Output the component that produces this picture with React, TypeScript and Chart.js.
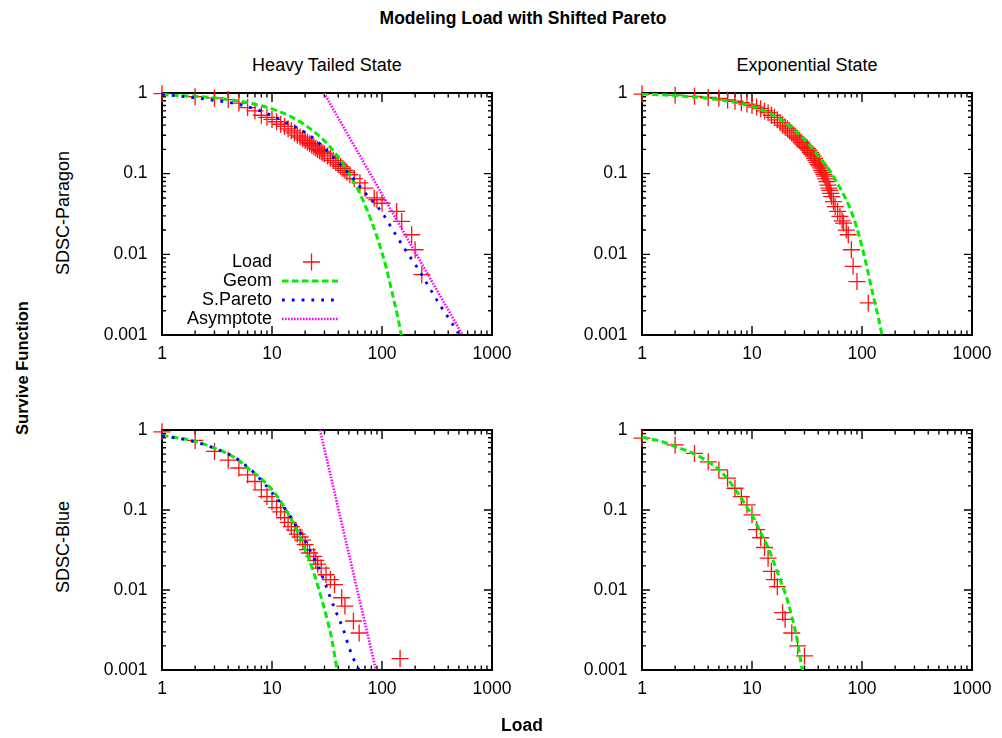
import React, { useEffect, useRef } from 'react';
import { Chart, registerables } from 'chart.js';

Chart.register(...registerables);

const FONT = '"Liberation Sans", Arial, Helvetica, sans-serif';
Chart.defaults.font.family = FONT;
Chart.defaults.font.size = 17.5;
Chart.defaults.color = '#000';

// ---- axis ticks ----
const xTickValues = [1, 10, 100, 1000];
const xTickLabels = ['1', '10', '100', '1000'];
const yTickValues = [1, 0.1, 0.01, 0.001];
const yTickLabels = ['1', '0.1', '0.01', '0.001'];

const seriesNames = ['Load', 'Geom', 'S.Pareto', 'Asymptote'];

// ---- Heavy Tailed State / SDSC-Paragon ----
const paragonHeavyLoadX = [1, 2, 3, 4, 5, 6, 7, 8, 9, 10, 11, 12, 13, 14, 15, 16, 17, 18, 19, 20, 21, 22, 23, 24, 25, 26, 27, 28, 29, 30, 32, 34, 36, 38, 40, 42, 44, 46, 48, 51, 56, 63, 70, 85, 90, 100, 136, 151, 186, 200, 230];
const paragonHeavyLoadY = [0.98, 0.9, 0.87, 0.83, 0.75, 0.66, 0.6, 0.53, 0.5, 0.47, 0.44, 0.41, 0.385, 0.36, 0.34, 0.32, 0.3, 0.285, 0.27, 0.258, 0.245, 0.235, 0.225, 0.215, 0.207, 0.2, 0.193, 0.187, 0.181, 0.176, 0.166, 0.155, 0.146, 0.138, 0.13, 0.123, 0.116, 0.11, 0.104, 0.097, 0.087, 0.077, 0.066, 0.05, 0.0475, 0.043, 0.034, 0.0256, 0.0175, 0.0114, 0.0056];
const paragonHeavyGeomX = [1, 2, 3, 5, 7, 10, 15, 20, 30, 40, 50, 60, 70, 80, 90, 100, 110, 120, 130, 140, 150];
const paragonHeavyGeomY = [0.955, 0.91, 0.87, 0.795, 0.725, 0.635, 0.505, 0.4, 0.255, 0.16, 0.1, 0.065, 0.041, 0.026, 0.0165, 0.0105, 0.0066, 0.004, 0.0025, 0.0016, 0.00098];
const paragonHeavyParetoX = [1, 1.5, 2, 3, 4, 5, 7, 10, 13, 17, 21, 25, 30, 36, 44, 53, 70, 100, 130, 160, 210, 260, 340, 430, 490];
const paragonHeavyParetoY = [0.955, 0.91, 0.87, 0.81, 0.765, 0.72, 0.635, 0.525, 0.44, 0.37, 0.31, 0.26, 0.207, 0.16, 0.121, 0.092, 0.058, 0.033, 0.0185, 0.0118, 0.0068, 0.0042, 0.0023, 0.00142, 0.00106];
const paragonHeavyAsymX = [29.7, 540];
const paragonHeavyAsymY = [1, 0.001];

// ---- Exponential State / SDSC-Paragon ----
const paragonExpLoadX = [1, 2, 3, 4, 5, 6, 7, 8, 9, 10, 11, 12, 13, 14, 15, 16, 17, 18, 19, 20, 21, 22, 23, 24, 25, 26, 27, 28, 29, 30, 31, 32, 33, 34, 35, 36, 37, 38, 39, 40, 41, 42, 43, 44, 45, 46, 47, 48, 49, 50, 51, 52, 53, 55, 57, 60, 63, 66, 68, 72, 75, 80, 83, 90, 114];
const paragonExpLoadY = [0.97, 0.94, 0.91, 0.88, 0.86, 0.82, 0.79, 0.76, 0.73, 0.7, 0.67, 0.64, 0.6, 0.57, 0.53, 0.5, 0.465, 0.43, 0.4, 0.38, 0.36, 0.34, 0.32, 0.3, 0.285, 0.27, 0.26, 0.245, 0.232, 0.22, 0.213, 0.204, 0.194, 0.183, 0.174, 0.165, 0.155, 0.146, 0.138, 0.13, 0.125, 0.118, 0.11, 0.104, 0.098, 0.093, 0.086, 0.08, 0.072, 0.066, 0.062, 0.057, 0.052, 0.045, 0.039, 0.034, 0.0295, 0.026, 0.0244, 0.02, 0.0175, 0.0114, 0.0071, 0.0046, 0.0025];
const paragonExpGeomX = [1, 2, 4, 6, 8, 10, 13, 16, 20, 24, 28, 34, 40, 46, 52, 60, 70, 80, 90, 100, 115, 127, 140, 152];
const paragonExpGeomY = [0.975, 0.93, 0.86, 0.795, 0.74, 0.685, 0.6, 0.52, 0.43, 0.35, 0.29, 0.218, 0.165, 0.13, 0.105, 0.075, 0.051, 0.034, 0.021, 0.0125, 0.0055, 0.003, 0.0017, 0.001];

// ---- Heavy Tailed State / SDSC-Blue ----
const blueHeavyLoadX = [1, 2, 3, 4, 5, 6, 7, 8, 9, 10, 11, 12, 13, 14, 15, 16, 17, 18, 19, 20, 21, 22, 24, 25, 26, 28, 31, 34, 37, 43, 46, 55, 62, 146];
const blueHeavyLoadY = [0.95, 0.74, 0.54, 0.42, 0.335, 0.275, 0.227, 0.178, 0.147, 0.128, 0.107, 0.095, 0.08, 0.07, 0.062, 0.056, 0.05, 0.046, 0.042, 0.037, 0.032, 0.029, 0.0263, 0.0235, 0.021, 0.0188, 0.0155, 0.0135, 0.0117, 0.008, 0.0063, 0.0041, 0.0029, 0.00139];
const blueHeavyGeomX = [1, 2, 3, 4, 5, 6, 7, 8, 10, 12, 14, 16, 18, 20, 23, 26, 29, 32, 35, 39];
const blueHeavyGeomY = [0.86, 0.72, 0.595, 0.5, 0.415, 0.335, 0.285, 0.245, 0.18, 0.128, 0.09, 0.064, 0.046, 0.032, 0.0195, 0.0115, 0.0068, 0.0041, 0.0024, 0.001];
const blueHeavyParetoX = [1, 2, 3, 4, 5, 6, 7, 8.3, 10, 12.3, 14.6, 17.3, 20, 23, 26.4, 30.3, 33.7, 37.4, 44.5, 51, 59, 62];
const blueHeavyParetoY = [0.85, 0.71, 0.59, 0.5, 0.42, 0.345, 0.285, 0.222, 0.165, 0.117, 0.084, 0.058, 0.041, 0.028, 0.0195, 0.0122, 0.0082, 0.0057, 0.0032, 0.0018, 0.00112, 0.001];
const blueHeavyAsymX = [27.3, 88];
const blueHeavyAsymY = [1, 0.001];

// ---- Exponential State / SDSC-Blue ----
const blueExpLoadX = [1, 2, 3, 4, 5, 6, 7, 8, 9, 10, 11, 12, 13, 14, 15, 16, 17, 19, 20, 23, 26, 30];
const blueExpLoadY = [0.79, 0.65, 0.51, 0.4, 0.317, 0.25, 0.187, 0.147, 0.116, 0.087, 0.057, 0.045, 0.034, 0.025, 0.0171, 0.0135, 0.011, 0.0052, 0.0043, 0.0029, 0.002, 0.0015];
const blueExpGeomX = [1, 1.5, 2, 3, 4, 5, 6, 7, 8, 9, 10, 12, 14, 16, 18, 20, 22, 24, 26, 28.3, 29];
const blueExpGeomY = [0.81, 0.72, 0.625, 0.5, 0.4, 0.32, 0.245, 0.183, 0.14, 0.108, 0.086, 0.052, 0.034, 0.021, 0.0135, 0.0092, 0.0059, 0.0037, 0.0022, 0.0011, 0.00095];

const toPoints = (xs: number[], ys: number[]) => xs.map((x, i) => ({ x, y: ys[i] }));

type PanelCfg = {
  left: number;
  top: number;
  chartH: number;
  loadX: number[];
  loadY: number[];
  geomX: number[];
  geomY: number[];
  paretoX?: number[];
  paretoY?: number[];
  asymX?: number[];
  asymY?: number[];
  legend: boolean;
};

const CANVAS_W = 440;
const CANVAS_H = 300;
const Y_AXIS_W = 82;
const PAD_TOP = 13;
const PAD_RIGHT = 28;

const framePlugin = {
  id: 'gnuFrame',
  beforeDatasetsDraw(chart: any) {
    const { ctx, chartArea: a, scales } = chart;
    const xs = scales.x;
    const ys = scales.y;
    ctx.save();
    ctx.strokeStyle = '#000';
    ctx.lineWidth = 1.4;
    ctx.beginPath();
    for (let k = 0; k < 3; k++) {
      const base = Math.pow(10, k);
      for (let m = 1; m <= 9; m++) {
        const v = m * base;
        const px = xs.getPixelForValue(v);
        const len = m === 1 ? 9 : 4.5;
        ctx.moveTo(px, a.bottom);
        ctx.lineTo(px, a.bottom - len);
        ctx.moveTo(px, a.top);
        ctx.lineTo(px, a.top + len);
      }
    }
    for (let k = -3; k < 0; k++) {
      const base = Math.pow(10, k);
      for (let m = 1; m <= 9; m++) {
        const v = m * base;
        const py = ys.getPixelForValue(v);
        const len = m === 1 ? 8 : 4;
        ctx.moveTo(a.left, py);
        ctx.lineTo(a.left + len, py);
        ctx.moveTo(a.right, py);
        ctx.lineTo(a.right - len, py);
      }
    }
    ctx.stroke();
    ctx.lineWidth = 2;
    ctx.strokeRect(a.left, a.top, a.right - a.left, a.bottom - a.top);
    ctx.restore();
  },
};

const legendPlugin = {
  id: 'innerLegend',
  afterDatasetsDraw(chart: any) {
    const { ctx, chartArea: a } = chart;
    ctx.save();
    ctx.font = `18px ${FONT}`;
    ctx.fillStyle = '#000';
    ctx.textAlign = 'right';
    ctx.textBaseline = 'middle';
    chart.data.datasets.forEach((ds: any, i: number) => {
      const y = a.top + 169 + 19 * i;
      ctx.fillText(ds.label, a.left + 110, y);
      if (ds.showLine === false) {
        const cx = a.left + 149.5;
        ctx.strokeStyle = ds.pointBorderColor;
        ctx.lineWidth = ds.pointBorderWidth;
        ctx.setLineDash([]);
        ctx.beginPath();
        ctx.moveTo(cx - 8.5, y);
        ctx.lineTo(cx + 8.5, y);
        ctx.moveTo(cx, y - 8.5);
        ctx.lineTo(cx, y + 8.5);
        ctx.stroke();
      } else {
        ctx.strokeStyle = ds.borderColor;
        ctx.lineWidth = ds.borderWidth;
        ctx.setLineDash(ds.borderDash || []);
        ctx.beginPath();
        ctx.moveTo(a.left + 120, y);
        ctx.lineTo(a.left + 176, y);
        ctx.stroke();
      }
    });
    ctx.restore();
  },
};

function Panel({ cfg }: { cfg: PanelCfg }) {
  const ref = useRef<HTMLCanvasElement>(null);
  useEffect(() => {
    const datasets: any[] = [
      {
        label: seriesNames[0],
        data: toPoints(cfg.loadX, cfg.loadY),
        showLine: false,
        pointStyle: 'cross',
        pointRadius: 8.5,
        pointHoverRadius: 8.5,
        pointBorderColor: '#ff1010',
        pointBackgroundColor: '#ff1010',
        pointBorderWidth: 1.3,
        clip: false,
        order: 4,
      },
      {
        label: seriesNames[1],
        data: toPoints(cfg.geomX, cfg.geomY),
        showLine: true,
        borderColor: '#00ee00',
        borderWidth: 3,
        borderDash: [6.5, 3.5],
        pointRadius: 0,
        pointHoverRadius: 0,
        cubicInterpolationMode: 'monotone',
        order: 3,
      },
    ];
    if (cfg.paretoX && cfg.paretoY) {
      datasets.push({
        label: seriesNames[2],
        data: toPoints(cfg.paretoX, cfg.paretoY),
        showLine: true,
        borderColor: '#0000ff',
        borderWidth: 2.8,
        borderDash: [2.8, 7],
        pointRadius: 0,
        pointHoverRadius: 0,
        cubicInterpolationMode: 'monotone',
        order: 2,
      });
    }
    if (cfg.asymX && cfg.asymY) {
      datasets.push({
        label: seriesNames[3],
        data: toPoints(cfg.asymX, cfg.asymY),
        showLine: true,
        borderColor: '#ff00ff',
        borderWidth: 2.6,
        borderDash: [1.6, 1.4],
        pointRadius: 0,
        pointHoverRadius: 0,
        order: 1,
      });
    }
    const xAxisH = CANVAS_H - PAD_TOP - cfg.chartH;
    const chart = new Chart(ref.current as HTMLCanvasElement, {
      type: 'scatter',
      data: { datasets },
      options: {
        animation: false,
        responsive: false,
        devicePixelRatio: 1,
        events: [],
        layout: { padding: { left: 0, top: PAD_TOP, right: PAD_RIGHT, bottom: 0 } },
        plugins: {
          legend: { display: false },
          tooltip: { enabled: false },
          title: { display: false },
        },
        scales: {
          x: {
            type: 'logarithmic',
            min: 1,
            max: 1000,
            grid: { display: false, drawTicks: false },
            border: { display: false },
            afterBuildTicks: (axis: any) => {
              axis.ticks = xTickValues.map((v) => ({ value: v }));
            },
            afterFit: (axis: any) => {
              axis.height = xAxisH;
              axis.paddingLeft = 0;
              axis.paddingRight = 0;
              axis.paddingTop = 0;
              axis.paddingBottom = 0;
            },
            ticks: {
              autoSkip: false,
              maxRotation: 0,
              minRotation: 0,
              padding: 8.5,
              color: '#000',
              font: { size: 17.5, family: FONT },
              callback: (value: any) => {
                const i = xTickValues.indexOf(Number(value));
                return i >= 0 ? xTickLabels[i] : '';
              },
            },
          },
          y: {
            type: 'logarithmic',
            min: 0.001,
            max: 1,
            grid: { display: false, drawTicks: false },
            border: { display: false },
            afterBuildTicks: (axis: any) => {
              axis.ticks = yTickValues.map((v) => ({ value: v }));
            },
            afterFit: (axis: any) => {
              axis.width = Y_AXIS_W;
              axis.paddingLeft = 0;
              axis.paddingRight = 0;
              axis.paddingTop = 0;
              axis.paddingBottom = 0;
            },
            ticks: {
              autoSkip: false,
              padding: 14.5,
              color: '#000',
              font: { size: 17.5, family: FONT },
              callback: (value: any) => {
                const i = yTickValues.indexOf(Number(value));
                return i >= 0 ? yTickLabels[i] : '';
              },
            },
          },
        },
      } as any,
      plugins: cfg.legend ? [framePlugin, legendPlugin] : [framePlugin],
    });
    return () => chart.destroy();
  }, [cfg]);
  return (
    <canvas
      ref={ref}
      width={CANVAS_W}
      height={CANVAS_H}
      style={{ position: 'absolute', left: cfg.left, top: cfg.top, width: CANVAS_W, height: CANVAS_H }}
    />
  );
}

const panels: PanelCfg[] = [
  {
    left: 80, top: 80, chartH: 242,
    loadX: paragonHeavyLoadX, loadY: paragonHeavyLoadY,
    geomX: paragonHeavyGeomX, geomY: paragonHeavyGeomY,
    paretoX: paragonHeavyParetoX, paretoY: paragonHeavyParetoY,
    asymX: paragonHeavyAsymX, asymY: paragonHeavyAsymY,
    legend: true,
  },
  {
    left: 560, top: 80, chartH: 242,
    loadX: paragonExpLoadX, loadY: paragonExpLoadY,
    geomX: paragonExpGeomX, geomY: paragonExpGeomY,
    legend: false,
  },
  {
    left: 80, top: 417, chartH: 240,
    loadX: blueHeavyLoadX, loadY: blueHeavyLoadY,
    geomX: blueHeavyGeomX, geomY: blueHeavyGeomY,
    paretoX: blueHeavyParetoX, paretoY: blueHeavyParetoY,
    asymX: blueHeavyAsymX, asymY: blueHeavyAsymY,
    legend: false,
  },
  {
    left: 560, top: 417, chartH: 240,
    loadX: blueExpLoadX, loadY: blueExpLoadY,
    geomX: blueExpGeomX, geomY: blueExpGeomY,
    legend: false,
  },
];

function Label({ x, y, text, size, bold, rotate }: { x: number; y: number; text: string; size: number; bold?: boolean; rotate?: boolean }) {
  return (
    <div
      style={{
        position: 'absolute',
        left: x,
        top: y,
        transform: rotate ? 'translate(-50%, -50%) rotate(-90deg)' : 'translate(-50%, -50%)',
        whiteSpace: 'nowrap',
        fontFamily: FONT,
        fontSize: size,
        fontWeight: bold ? 'bold' : 'normal',
        lineHeight: 1,
        color: '#000',
      }}
    >
      {text}
    </div>
  );
}

export default function App() {
  return (
    <div style={{ position: 'absolute', left: 0, top: 0, width: 1002, height: 738, background: '#fff', overflow: 'hidden' }}>
      {panels.map((p, i) => (
        <Panel key={i} cfg={p} />
      ))}
      <Label x={523} y={19} text="Modeling Load with Shifted Pareto" size={17.5} bold />
      <Label x={327} y={65} text="Heavy Tailed State" size={18} />
      <Label x={807} y={65} text="Exponential State" size={18} />
      <Label x={22} y={368} text="Survive Function" size={16.5} bold rotate />
      <Label x={63} y={213} text="SDSC-Paragon" size={18} rotate />
      <Label x={63} y={547} text="SDSC-Blue" size={18} rotate />
      <Label x={522} y={726} text="Load" size={17.5} bold />
    </div>
  );
}
